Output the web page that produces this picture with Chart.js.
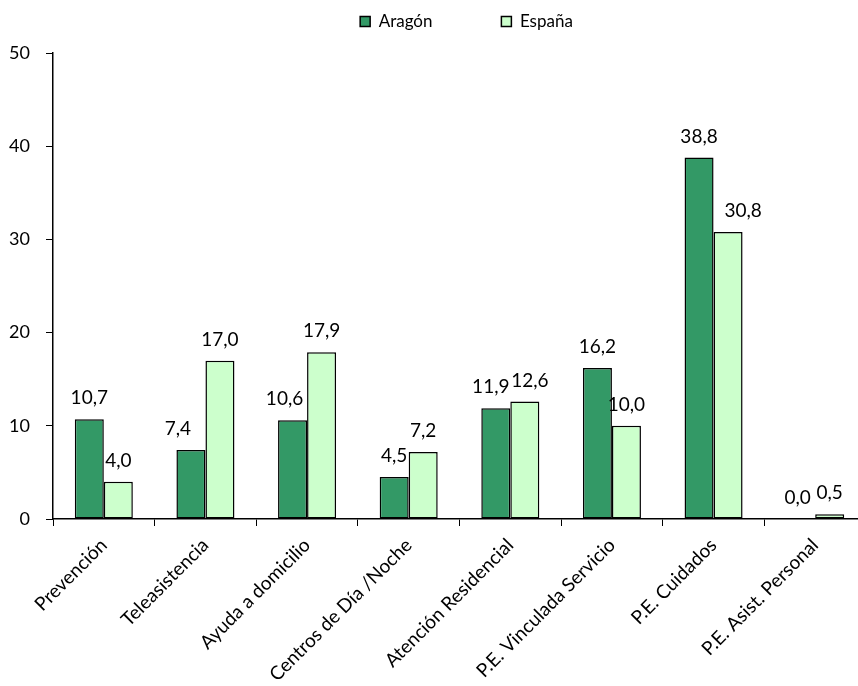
<!DOCTYPE html>
<html>
<head>
<meta charset="utf-8">
<script src="https://cdn.jsdelivr.net/npm/chart.js@4"></script>
<style>
  html, body { margin: 0; padding: 0; background: #fff; overflow: hidden; }
  /* el área del gráfico sigue unos píxeles más allá del borde derecho, como en el original */
  #wrap { width: 866px; height: 686px; position: relative; }
</style>
</head>
<body>
<div id="wrap"><canvas id="chart"></canvas></div>
<script>
const categories = [
  "Prevención",
  "Teleasistencia",
  "Ayuda a domicilio",
  "Centros de Día /Noche",
  "Atención Residencial",
  "P.E. Vinculada Servicio",
  "P.E. Cuidados",
  "P.E. Asist. Personal"
];
const aragon = [10.7, 7.4, 10.6, 4.5, 11.9, 16.2, 38.8, 0.0];
const espana = [4.0, 17.0, 17.9, 7.2, 12.6, 10.0, 30.8, 0.5];
const yTicks = [0, 10, 20, 30, 40, 50];

const FONT = "Lato, 'Open Sans', sans-serif";

// relleno con espacios para separar las dos entradas de la leyenda
const measure = document.createElement("canvas").getContext("2d");
measure.font = "17px " + FONT;
function padTo(text, width) {
  let s = text;
  while (measure.measureText(s + " ").width <= width) s += " ";
  return s;
}

// pequeños desplazamientos de etiquetas, como en el original (dataset-categoría)
const labelNudge = { "0-1": -13, "0-2": -8, "0-4": -5, "1-4": 5, "1-6": 15, "0-7": -3 };

// etiquetas encima de cada barra, con coma decimal
const barLabels = {
  id: "barLabels",
  afterUpdate(chart) {
    // desplaza la leyenda un poco a la derecha
    if (chart.legend) {
      chart.legend.left += 7;
      chart.legend.right += 7;
    }
  },
  afterDatasetsDraw(chart) {
    const ctx = chart.ctx;
    ctx.save();
    ctx.font = "19px " + FONT;
    ctx.fillStyle = "#000";
    ctx.textAlign = "center";
    ctx.textBaseline = "alphabetic";
    chart.data.datasets.forEach((ds, i) => {
      chart.getDatasetMeta(i).data.forEach((bar, j) => {
        const txt = ds.data[j].toFixed(1).replace(".", ",");
        const dx = labelNudge[i + "-" + j] || 0;
        ctx.fillText(txt, bar.x + dx, bar.y - 15);
      });
    });
    ctx.restore();
  }
};

new Chart(document.getElementById("chart"), {
  type: "bar",
  data: {
    labels: categories,
    datasets: [
      {
        label: "Aragón",
        data: aragon,
        backgroundColor: "#339966",
        borderColor: "#000",
        borderWidth: 1.5,
        borderSkipped: false
      },
      {
        label: "España",
        data: espana,
        backgroundColor: "#ccffcc",
        borderColor: "#000",
        borderWidth: 1.5,
        borderSkipped: false
      }
    ]
  },
  options: {
    responsive: true,
    maintainAspectRatio: false,
    animation: false,
    layout: { padding: { top: 5, right: 0, left: 0, bottom: 0 } },
    datasets: {
      bar: { categoryPercentage: 0.571, barPercentage: 1.0 }
    },
    plugins: {
      legend: {
        position: "top",
        fullSize: false,
        labels: {
          font: { family: FONT, size: 17 },
          color: "#000",
          boxWidth: 10,
          boxHeight: 10,
          padding: 8,
          generateLabels(chart) {
            return chart.data.datasets.map((ds, i) => ({
              text: i === 0 ? padTo(ds.label, 116) : ds.label,
              fillStyle: ds.backgroundColor,
              strokeStyle: "#000",
              lineWidth: 1.5,
              datasetIndex: i
            }));
          }
        }
      },
      // separador vacío entre la leyenda y el área del gráfico
      subtitle: {
        display: true,
        text: "",
        position: "top",
        weight: 500,
        font: { size: 1 },
        padding: { top: 6, bottom: 6 }
      },
      tooltip: { enabled: false }
    },
    scales: {
      x: {
        afterFit(axis) {
          axis.height = 167;
          axis.paddingRight = 0;
          axis.paddingLeft = 0;
        },
        grid: {
          display: true,
          drawOnChartArea: false,
          drawTicks: true,
          tickLength: 7,
          color: "#000",
          offset: true
        },
        border: { display: true, color: "#000", width: 1.5 },
        ticks: {
          color: "#000",
          font: { family: FONT, size: 19 },
          maxRotation: 45,
          minRotation: 45,
          autoSkip: false,
          padding: 8
        }
      },
      y: {
        min: 0,
        max: 50,
        afterFit(axis) { axis.width = 53; },
        afterBuildTicks(axis) {
          axis.ticks = yTicks.map(v => ({ value: v }));
        },
        grid: {
          display: true,
          drawOnChartArea: false,
          drawTicks: true,
          tickLength: 7,
          color: "#000"
        },
        border: { display: true, color: "#000", width: 1.5 },
        ticks: {
          color: "#000",
          font: { family: FONT, size: 18 },
          padding: 16
        }
      }
    }
  },
  plugins: [barLabels]
});
</script>
</body>
</html>
